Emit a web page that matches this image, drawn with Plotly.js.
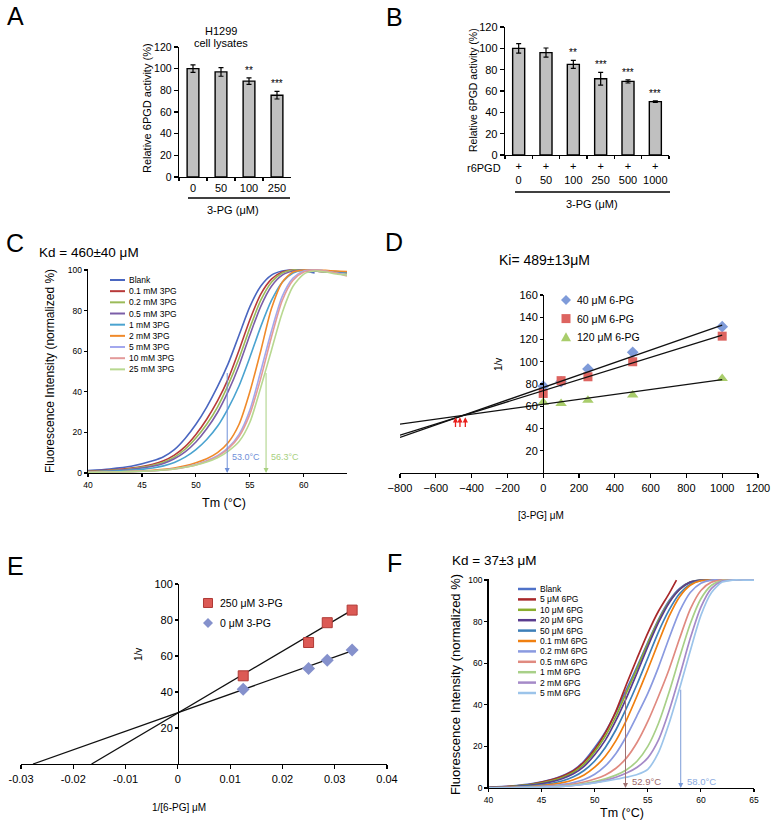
<!DOCTYPE html>
<html><head><meta charset="utf-8">
<script src="https://cdn.plot.ly/plotly-3.0.1.min.js"></script>
<style>html,body{margin:0;padding:0;background:#fff;}#chart{width:777px;height:827px;}</style>
</head><body><div id="chart"></div>
<script>
// ---------------- DATA ----------------
// Panel A
const catsA = ['0', '50', '100', '250'];
const valsA = [100, 97, 88.5, 75.5];
const errA = [3.5, 4, 3, 3.5];
const starsA = ['', '', '**', '***'];
// Panel B
const catsB = ['0', '50', '100', '250', '500', '1000'];
const valsB = [100, 96, 85, 71.5, 69, 50];
const errB = [4.5, 4.3, 3.8, 6, 1.5, 0.8];
const starsB = ['', '', '**', '***', '***', '***'];
// Panel C (thermal shift, 3PG)
const tempC = [40, 42, 44, 46, 47, 48, 49, 50, 51, 52, 53, 54, 55, 56, 57, 58, 59, 60, 61, 62, 63, 64];
const namesC = ['Blank', '0.1 mM 3PG', '0.2 mM 3PG', '0.5 mM 3PG', '1 mM 3PG', '2 mM 3PG', '5 mM 3PG', '10 mM 3PG', '25 mM 3PG'];
const cBlank = [1.2, 2.0, 3.3, 6.0, 8.0, 11.5, 17, 24, 32.5, 42.5, 54, 68, 82, 92, 97.5, 99.5, 100, 99.5, 98.5, null, null, null];
const c01 = [0.8, 1.4, 2.4, 4.3, 6, 8.8, 13, 19, 26.5, 35.5, 46.5, 60.5, 75.5, 88, 95.5, 99, 100, 99.8, 99.5, 99.2, 99, 98.8];
const c02 = [0.7, 1.2, 2.1, 3.8, 5.3, 7.8, 11.7, 17.2, 24, 32.5, 43.5, 56.5, 71.5, 85, 94, 98.5, 100, 100, 99.5, 99, 98.8, 98.5];
const c05 = [0.6, 1.0, 1.8, 3.3, 4.7, 7, 10.4, 15.3, 21.8, 29.8, 40.3, 53, 68, 82, 92, 97.5, 99.5, 100, 99.5, 99.2, 99, 98.8];
const c1 = [0.5, 0.8, 1.4, 2.5, 3.5, 5.2, 7.8, 11.5, 16.5, 23, 32, 43, 57, 72, 85, 94, 98.5, 100, 100, 99.5, 99.2, 99];
const c2 = [0.3, 0.5, 0.8, 1.3, 1.8, 2.5, 3.5, 5, 7, 10, 15, 24, 40, 60, 81, 94, 99, 100, 100, 99.8, 99.5, 99.3];
const c5 = [0.3, 0.5, 0.7, 1.1, 1.5, 2.1, 3.0, 4.2, 6, 8.5, 12.5, 19, 31, 50, 70, 87, 96, 99.5, 100, 99.5, 98.5, 97.5];
const c10 = [0.3, 0.5, 0.7, 1.1, 1.5, 2.0, 2.9, 4.0, 5.8, 8.2, 12, 18, 29, 46.5, 67, 85, 95, 99, 100, 99.5, 98.5, 97];
const c25 = [0.3, 0.5, 0.7, 1.1, 1.5, 2.0, 2.8, 3.9, 5.4, 7.5, 10.8, 15.5, 25, 42, 60.5, 79, 92, 98, 99.5, 99, 98, 97.5];
const tmC = [52.9, 56.5];
const tmLabelsC = ['53.0°C', '56.3°C'];
// Panel D (Dixon plot)
const doseD = [0, 100, 250, 500, 1000];
const d40 = [78, 82, 93.5, 108.5, 131.5];
const d60 = [71.5, 83, 86.5, 100, 123];
const d120 = [63.5, 62.5, 65.5, 70, 85];
const namesD = ['40 μM 6-PG', '60 μM 6-PG', '120 μM 6-PG'];
const fitDx = [-800, 1000];
const fitD40 = [32, 133];
const fitD60 = [34, 124];
const fitD120 = [44, 84];
const crossD = [-490, -465, -435];
const crossDy = [50, 40];
// Panel E (Lineweaver-Burk)
const invE = [0.0125, 0.025, 0.02857, 0.03333];
const e250 = [49, 67.5, 78.5, 85.5];
const e0 = [41.5, 53, 57.7, 63.3];
const namesE = ['250 μM 3-PG', '0 μM 3-PG'];
const fitE250x = [-0.0165, 0.0333];
const fitE250y = [0, 85.5];
const fitE0x = [-0.0277, 0.0333];
const fitE0y = [0, 62.8];
const ticksE = [-0.03, -0.02, -0.01, 0, 0.01, 0.02, 0.03, 0.04];
const tickTextE = ['-0.03', '-0.02', '-0.01', '0', '0.01', '0.02', '0.03', '0.04'];
// Panel F (thermal shift, 6PG)
const tempF = [40, 42, 44, 46, 47, 48, 49, 50, 51, 52, 53, 54, 55, 56, 57, 58, 59, 60, 61, 62, 63, 64, 65];
const tempF5 = [40, 42, 44, 46, 47, 48, 49, 50, 51, 52, 53, 54, 55, 56, 57, 57.7];
const namesF = ['Blank', '5 μM 6PG', '10 μM 6PG', '20 μM 6PG', '50 μM 6PG', '0.1 mM 6PG', '0.2 mM 6PG', '0.5 mM 6PG', '1 mM 6PG', '2 mM 6PG', '5 mM 6PG'];
const fBlank = [0.3, 0.9, 2.0, 4.2, 6.0, 8.5, 13, 19.5, 27, 36.5, 47.5, 58.5, 70, 81, 90, 96, 99, 100, 100, 100, 100, 100, 100];
const f5u = [0.2, 0.8, 1.8, 4.0, 5.8, 8.3, 12.5, 18.5, 26.5, 37, 50, 62.5, 74.5, 85, 93.5, 100];
const f10u = [0.2, 0.7, 1.6, 3.6, 5.2, 7.6, 11.5, 17.5, 25, 34.5, 46, 57.5, 69.5, 80.5, 89.5, 95.5, 99, 100, 100, 100, 100, 100, 100];
const f20u = [0.2, 0.6, 1.4, 3.1, 4.6, 6.8, 10.4, 16, 23, 32.5, 43.5, 55.5, 68, 79.5, 89, 95.5, 99, 100, 100, 100, 100, 100, 100];
const f50u = [0.1, 0.4, 1.0, 2.3, 3.5, 5.4, 8.4, 13, 19.5, 28, 38.5, 50, 62.5, 75, 85.5, 93.5, 98, 99.8, 100, 100, 100, 100, 100];
const f01m = [0.1, 0.3, 0.7, 1.7, 2.6, 4.0, 6.3, 10, 15.3, 22.8, 32.8, 44.5, 57, 70, 82.5, 92, 97.5, 99.7, 100, 100, 100, 100, 100];
const f02m = [0.05, 0.2, 0.5, 1.1, 1.7, 2.6, 4.1, 6.6, 10.6, 16.6, 25, 35, 45.5, 58, 72, 85, 94, 98.5, 100, 100, 100, 100, 100];
const f05m = [0.05, 0.15, 0.35, 0.8, 1.2, 1.9, 2.9, 4.3, 6.3, 9.5, 14.5, 22, 32, 44, 57, 72, 86, 95, 99, 100, 100, 100, 100];
const f1m = [0.05, 0.1, 0.3, 0.6, 0.9, 1.4, 2.1, 3.1, 4.4, 6.2, 8.8, 13, 20, 31, 46, 63, 79, 91, 97.5, 99.8, 100, 100, 100];
const f2m = [0.05, 0.1, 0.25, 0.5, 0.8, 1.2, 1.8, 2.6, 3.7, 5.2, 7.2, 10, 14.5, 23, 37, 54, 72, 87, 96, 99.5, 100, 100, 100];
const f5m = [0.05, 0.1, 0.2, 0.5, 0.8, 1.2, 1.8, 2.5, 3.3, 4.2, 5.2, 6.5, 9, 17, 31, 48, 66, 83, 94, 99, 100, 100, 100];
const tmF = [52.9, 58.1];
const tmLabelsF = ['52.9°C', '58.0°C'];

// ---------------- STYLE ----------------
const FONT = '"Liberation Sans", Arial, Helvetica, sans-serif';
const colorsC = ['#4a66c0', '#b83a3a', '#9bbb59', '#7b5ea8', '#4aa3d0', '#f08a2a', '#a3a8ee', '#e39a9a', '#b8d890'];
const colorsF = ['#4f72c8', '#a8282a', '#8aae2e', '#5a3c8e', '#3d7fb8', '#f08010', '#8a9ae0', '#e08a80', '#a8d088', '#a58ac8', '#9cc4ea'];
const W = 777, H = 827;
const X = p => p / W;
const Y = p => 1 - p / H;

const traces = [];
const shapes = [];
const ann = [];

function txt(text, x, y, size, opt) {
  return Object.assign({text: text, xref: 'paper', yref: 'paper', x: X(x), y: Y(y),
    xanchor: 'center', yanchor: 'middle', showarrow: false,
    font: {family: FONT, size: size || 11, color: (opt && opt.color) || '#000'}}, opt || {});
}
function lineShape(x0, y0, x1, y1, color, width) {
  return {type: 'line', xref: 'paper', yref: 'paper', x0: X(x0), y0: Y(y0), x1: X(x1), y1: Y(y1), line: {color: color, width: width}};
}
function polyPath(pts) {
  return 'M' + pts.map(p => X(p[0]).toFixed(5) + ',' + Y(p[1]).toFixed(5)).join('L') + 'Z';
}
function markerShape(sym, cx, cy, r, color, edge) {
  let pts;
  if (sym === 'diamond') pts = [[cx, cy - r], [cx + r, cy], [cx, cy + r], [cx - r, cy]];
  else if (sym === 'square') pts = [[cx - r, cy - r], [cx + r, cy - r], [cx + r, cy + r], [cx - r, cy + r]];
  else pts = [[cx, cy - r], [cx + r, cy + r * 0.8], [cx - r, cy + r * 0.8]];
  return {type: 'path', xref: 'paper', yref: 'paper', path: polyPath(pts), fillcolor: color, line: {color: edge || color, width: edge ? 1 : 0}};
}

// ---- A bars ----
traces.push({type: 'bar', x: catsA, y: valsA, width: 0.42, xaxis: 'x', yaxis: 'y',
  marker: {color: '#c0c0c0', line: {color: '#000', width: 1.4}},
  error_y: {type: 'data', array: errA, visible: true, color: '#000', thickness: 1.2, width: 2.5},
  showlegend: false, hoverinfo: 'skip'});
catsA.forEach((c, i) => { if (starsA[i]) ann.push({text: starsA[i], x: i, y: valsA[i] + errA[i] + 7, xref: 'x', yref: 'y', showarrow: false, yanchor: 'middle', font: {family: FONT, size: 10, color: '#000'}}); });
// ---- B bars ----
traces.push({type: 'bar', x: catsB, y: valsB, width: 0.44, xaxis: 'x2', yaxis: 'y2',
  marker: {color: '#c0c0c0', line: {color: '#000', width: 1.4}},
  error_y: {type: 'data', array: errB, visible: true, color: '#000', thickness: 1.2, width: 2.5},
  showlegend: false, hoverinfo: 'skip'});
catsB.forEach((c, i) => { if (starsB[i]) ann.push({text: starsB[i], x: i, y: valsB[i] + errB[i] + 7, xref: 'x2', yref: 'y2', showarrow: false, yanchor: 'middle', font: {family: FONT, size: 10, color: '#000'}}); });

// ---- C curves ----
const seriesC = [cBlank, c01, c02, c05, c1, c2, c5, c10, c25];
seriesC.forEach((s, i) => traces.push({type: 'scatter', mode: 'lines', x: tempC, y: s, xaxis: 'x3', yaxis: 'y3',
  line: {color: colorsC[i], width: 1.6, shape: 'spline', smoothing: 0.7}, showlegend: false, hoverinfo: 'skip'}));
const arrowColC = ['#6f8fd8', '#a8d080'];
tmC.forEach((t, i) => {
  ann.push({x: t, y: 0, ax: t, ay: 50, xref: 'x3', yref: 'y3', axref: 'x3', ayref: 'y3', text: '', showarrow: true,
    arrowhead: 2, arrowsize: 1, arrowwidth: 1, arrowcolor: arrowColC[i]});
  ann.push({x: t + 0.25, y: 8, xref: 'x3', yref: 'y3', text: tmLabelsC[i], showarrow: false, xanchor: 'left', yanchor: 'middle',
    font: {family: FONT, size: 9, color: arrowColC[i]}});
});
namesC.forEach((n, i) => {
  const yy = 280 + i * 11.17;
  shapes.push(lineShape(110, yy, 125, yy, colorsC[i], 2));
  ann.push(txt(n, 127, yy, 8.5, {xanchor: 'left'}));
});

// ---- D ----
const markD = [[d40, 'diamond', '#7f9bd9', 9], [d60, 'square', '#dd6460', 9], [d120, 'triangle-up', '#a9cd6b', 10]];
markD.forEach(m => traces.push({type: 'scatter', mode: 'markers', x: doseD, y: m[0], xaxis: 'x4', yaxis: 'y4',
  marker: {symbol: m[1], color: m[2], size: m[3]}, showlegend: false, hoverinfo: 'skip'}));
[fitD40, fitD60, fitD120].forEach(fy => traces.push({type: 'scatter', mode: 'lines', x: fitDx, y: fy, xaxis: 'x4', yaxis: 'y4',
  line: {color: '#111', width: 1.3}, showlegend: false, hoverinfo: 'skip'}));
crossD.forEach(cx => ann.push({x: cx, y: crossDy[0], ax: cx, ay: crossDy[1], xref: 'x4', yref: 'y4', axref: 'x4', ayref: 'y4',
  text: '', showarrow: true, arrowhead: 2, arrowsize: 0.8, arrowwidth: 1.3, arrowcolor: '#e8201c'}));
const legSymD = ['diamond', 'square', 'triangle'];
namesD.forEach((n, i) => {
  const yy = 300 + i * 18.6;
  shapes.push(markerShape(legSymD[i], 566, yy, legSymD[i] === 'square' ? 4.5 : 5, markD[i][2]));
  ann.push(txt(n, 575, yy, 10.5, {xanchor: 'left'}));
});

// ---- E ----
traces.push({type: 'scatter', mode: 'lines', x: fitE250x, y: fitE250y, xaxis: 'x5', yaxis: 'y5', line: {color: '#111', width: 1.3}, showlegend: false, hoverinfo: 'skip'});
traces.push({type: 'scatter', mode: 'lines', x: fitE0x, y: fitE0y, xaxis: 'x5', yaxis: 'y5', line: {color: '#111', width: 1.3}, showlegend: false, hoverinfo: 'skip'});
traces.push({type: 'scatter', mode: 'markers', x: invE, y: e250, xaxis: 'x5', yaxis: 'y5', marker: {symbol: 'square', color: '#dc5a55', size: 10, line: {color: '#b03a36', width: 1}}, showlegend: false, hoverinfo: 'skip'});
traces.push({type: 'scatter', mode: 'markers', x: invE, y: e0, xaxis: 'x5', yaxis: 'y5', marker: {symbol: 'diamond', color: '#8591cc', size: 10}, showlegend: false, hoverinfo: 'skip'});
shapes.push(markerShape('square', 208, 603, 4.5, '#dc5a55', '#b03a36'));
shapes.push(markerShape('diamond', 208, 623, 5, '#8591cc'));
ann.push(txt(namesE[0], 218, 603, 10.5, {xanchor: 'left'}));
ann.push(txt(namesE[1], 218, 623, 10.5, {xanchor: 'left'}));

// ---- F ----
const seriesF = [fBlank, f5u, f10u, f20u, f50u, f01m, f02m, f05m, f1m, f2m, f5m];
seriesF.forEach((s, i) => traces.push({type: 'scatter', mode: 'lines', x: i === 1 ? tempF5 : tempF, y: s, xaxis: 'x6', yaxis: 'y6',
  line: {color: colorsF[i], width: 1.7, shape: 'spline', smoothing: 0.7}, showlegend: false, hoverinfo: 'skip'}));
const arrowColF = ['#a07272', '#7b9bd8'];
const labColF = ['#a06a6a', '#8aaae0'];
tmF.forEach((t, i) => {
  ann.push({x: t, y: 0, ax: t, ay: 48, xref: 'x6', yref: 'y6', axref: 'x6', ayref: 'y6', text: '', showarrow: true,
    arrowhead: 2, arrowsize: 1, arrowwidth: 1, arrowcolor: arrowColF[i]});
  ann.push({x: t + 0.4, y: 3, xref: 'x6', yref: 'y6', text: tmLabelsF[i], showarrow: false, xanchor: 'left', yanchor: 'middle',
    font: {family: FONT, size: 9.5, color: labColF[i]}});
});
namesF.forEach((n, i) => {
  const yy = 589 + i * 10.4;
  shapes.push(lineShape(518, yy, 536, yy, colorsF[i], 2.5));
  ann.push(txt(n, 538, yy, 8.5, {xanchor: 'left'}));
});

// ---- text labels ----
[['A', 15, 16], ['B', 395, 17], ['C', 15, 243], ['D', 394, 242], ['E', 15, 566], ['F', 395, 563]]
  .forEach(l => ann.push(txt(l[0], l[1], l[2], 25)));
ann.push(txt('H1299', 221, 31, 11));
ann.push(txt('cell lysates', 221, 43, 11));
ann.push(txt('Relative 6PGD activity (%)', 147, 108, 11, {textangle: -90}));
shapes.push(lineShape(188, 198, 290, 198, '#000', 1.5));
ann.push(txt('3-PG (μM)', 233, 210, 11));
ann.push(txt('Relative 6PGD activity (%)', 473, 90, 10.5, {textangle: -90}));
ann.push(txt('r6PGD', 503, 168, 11, {xanchor: 'right'}));
shapes.push(lineShape(515, 192, 670, 192, '#000', 1.5));
ann.push(txt('3-PG (μM)', 592, 204, 11));
ann.push(txt('Kd = 460±40 μM', 37, 252, 13.5, {xanchor: 'left'}));
ann.push(txt('Fluorescence Intensity (normalized %)', 50, 371, 12, {textangle: -90}));
ann.push(txt('Tm (°C)', 224, 503, 12.5));
ann.push(txt('Ki= 489±13μM', 544, 260, 14));
ann.push(txt('1/v', 498, 365, 10, {textangle: -90}));
ann.push(txt('[3-PG] μM', 541, 515, 10));
ann.push(txt('1/v', 138, 655, 10, {textangle: -90}));
ann.push(txt('1/[6-PG] μM', 179, 807, 10));
ann.push(txt('Kd = 37±3 μM', 450, 560, 13.5, {xanchor: 'left'}));
ann.push(txt('Fluorescence Intensity (normalized %)', 455, 685, 13, {textangle: -90}));
ann.push(txt('Tm (°C)', 622, 813, 12.5));

// ---------------- AXES ----------------
function ax(extra, fs) {
  return Object.assign({showgrid: false, zeroline: false, showline: true, linecolor: '#000', linewidth: 1.3,
    ticks: 'outside', tickcolor: '#000', tickwidth: 1.1, ticklen: 4, tickangle: 0,
    tickfont: {family: FONT, size: fs || 11, color: '#000'}, fixedrange: true}, extra);
}
const layout = {
  width: W, height: H, margin: {l: 0, r: 0, t: 0, b: 0}, paper_bgcolor: '#fff', plot_bgcolor: 'rgba(0,0,0,0)',
  showlegend: false,
  xaxis: ax({domain: [X(179), X(291)], anchor: 'y', type: 'category', range: [-0.5, catsA.length - 0.5], tickson: 'boundaries', ticklen: 3}, 11),
  yaxis: ax({domain: [Y(177), Y(47)], anchor: 'x', range: [0, 120], tickvals: [0, 20, 40, 60, 80, 100, 120]}, 10.5),
  xaxis2: ax({domain: [X(505), X(669)], anchor: 'y2', type: 'category', range: [-0.5, catsB.length - 0.5], tickson: 'boundaries', ticklen: 3,
    tickmode: 'array', tickvals: catsB, ticktext: catsB.map(c => '+<br>' + c)}, 11),
  yaxis2: ax({domain: [Y(155), Y(27)], anchor: 'x2', range: [0, 120], tickvals: [0, 20, 40, 60, 80, 100, 120]}, 11),
  xaxis3: ax({domain: [X(88), X(347)], anchor: 'y3', range: [40, 64], tickvals: [40, 45, 50, 55, 60], ticklen: 3}, 8.5),
  yaxis3: ax({domain: [Y(473), Y(269)], anchor: 'x3', range: [0, 100.5], tickvals: [0, 20, 40, 60, 80, 100], ticklen: 3}, 8.5),
  xaxis4: ax({domain: [X(400), X(758)], anchor: 'y4', range: [-800, 1200], tickvals: [-800, -600, -400, -200, 0, 200, 400, 600, 800, 1000, 1200], ticklen: 4}, 11),
  yaxis4: ax({domain: [Y(473), Y(295)], anchor: 'free', position: X(543), range: [0, 160], tickvals: [20, 40, 60, 80, 100, 120, 140, 160], ticklen: 3}, 11),
  xaxis5: ax({domain: [X(21), X(387)], anchor: 'y5', range: [-0.03, 0.04], tickvals: ticksE, ticktext: tickTextE, ticklen: 4}, 11),
  yaxis5: ax({domain: [Y(764), Y(584)], anchor: 'free', position: X(178), range: [0, 100], tickvals: [20, 40, 60, 80, 100], ticklen: 3}, 11),
  xaxis6: ax({domain: [X(488.5), X(754)], anchor: 'y6', range: [40, 65], tickvals: [40, 45, 50, 55, 60, 65], ticklen: 3}, 8.5),
  yaxis6: ax({domain: [Y(788), Y(579)], anchor: 'x6', range: [0, 100.5], tickvals: [0, 20, 40, 60, 80, 100], ticklen: 3}, 8.5),
  annotations: ann,
  shapes: shapes
};
Plotly.newPlot('chart', traces, layout, {staticPlot: true, displayModeBar: false});
</script></body></html>
